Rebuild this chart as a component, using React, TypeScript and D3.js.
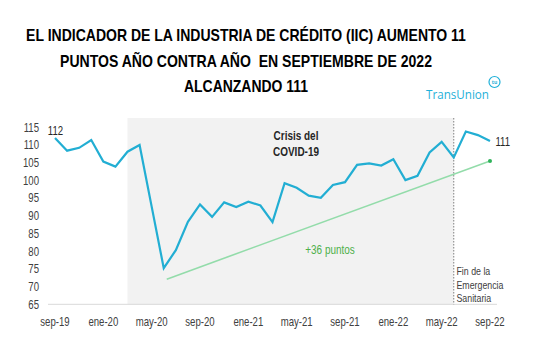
import React, { useLayoutEffect, useRef, useState } from "react";
import * as d3 from "d3";

const months = [
  "sep-19","oct-19","nov-19","dic-19","ene-20","feb-20","mar-20","abr-20","may-20","jun-20","jul-20","ago-20",
  "sep-20","oct-20","nov-20","dic-20","ene-21","feb-21","mar-21","abr-21","may-21","jun-21","jul-21","ago-21",
  "sep-21","oct-21","nov-21","dic-21","ene-22","feb-22","mar-22","abr-22","may-22","jun-22","jul-22","ago-22","sep-22",
];
const iic = [
  112, 108.4, 109.2, 111.4, 105.3, 103.9, 108.1, 110, 92.6, 75.2, 80.3, 88.3,
  93.2, 89.7, 93.8, 92.5, 94.0, 92.9, 88.2, 99.2, 97.9, 95.7, 95.1, 98.7,
  99.5, 104.4, 104.8, 104.2, 106.0, 100.1, 101.3, 107.9, 110.9, 106.5, 113.8, 112.8, 111.1,
];
const xTicks = ["sep-19","ene-20","may-20","sep-20","ene-21","may-21","sep-21","ene-22","may-22","sep-22"];
const yTicks = [65, 70, 75, 80, 85, 90, 95, 100, 105, 110, 115];
const trendMonths = ["jun-20", "sep-22"];
const trendValues = [72.1, 105.5];
const crisisStart = "mar-20";
const crisisEnd = "jun-22";
const titleLines = [
  "EL INDICADOR DE LA INDUSTRIA DE CRÉDITO (IIC) AUMENTO 11",
  "PUNTOS AÑO CONTRA AÑO  EN SEPTIEMBRE DE 2022",
  "ALCANZANDO 111",
];
const crisisLabel = ["Crisis del", "COVID-19"];
const endLabel = ["Fin de la", "Emergencia", "Sanitaria"];

const sans = "'Liberation Sans', Arial, sans-serif";

type NProps = {
  x: number;
  y: number;
  s?: number;
  anchor?: "start" | "middle" | "end";
  size: number;
  fill: string;
  bold?: boolean;
  children: React.ReactNode;
};
function NText({ x, y, s = 0.8, anchor = "start", size, fill, bold, children }: NProps) {
  return (
    <text
      transform={`translate(${x},${y}) scale(${s},1)`}
      textAnchor={anchor}
      fontFamily={sans}
      fontSize={size}
      fontWeight={bold ? "bold" : "normal"}
      fill={fill}
    >
      {children}
    </text>
  );
}

function FitText({ x, y, width, children }: { x: number; y: number; width: number; children: string }) {
  const ref = useRef<SVGTextElement>(null);
  const [s, setS] = useState(0.82);
  useLayoutEffect(() => {
    if (ref.current) {
      const w = ref.current.getComputedTextLength();
      if (w > 0) setS(width / w);
    }
  }, [width, children]);
  return (
    <text
      ref={ref}
      transform={`translate(${x},${y}) scale(${s},1)`}
      textAnchor="middle"
      fontFamily={sans}
      fontWeight="bold"
      fontSize={16.5}
      fill="#000"
      style={{ whiteSpace: "pre" }}
    >
      {children}
    </text>
  );
}

export default function App() {
  const x = d3.scalePoint<string>().domain(months).range([55, 490]);
  const y = d3.scaleLinear().domain([65, 115]).range([304.3, 127.3]);
  const line = d3
    .line<number>()
    .x((_, i) => x(months[i]) as number)
    .y((d) => y(d));
  const trend = d3
    .line<number>()
    .x((_, i) => (x(trendMonths[i]) as number) + (i === 0 ? 3 : 0))
    .y((d) => y(d));
  const shadeX0 = x(crisisStart) as number;
  const shadeX1 = x(crisisEnd) as number;
  const lineColor = "#22aed3";
  const titleWidths = [440, 372, 124];
  const last = iic.length - 1;
  const logo = "#1fb0d8";

  return (
    <svg
      width={540}
      height={364}
      style={{ position: "absolute", left: 0, top: 0, display: "block", background: "#fff" }}
    >
      {titleLines.map((t, i) => (
        <FitText key={i} x={246} y={41 + i * 25.5} width={titleWidths[i]}>
          {t}
        </FitText>
      ))}
      {/* logo */}
      <text x={426} y={99} fontFamily="'Open Sans', sans-serif" fontSize={13} fill={logo} textLength={63} lengthAdjust="spacingAndGlyphs">
        TransUnion
      </text>
      <circle cx={494.5} cy={82} r={5.5} fill="none" stroke={logo} strokeWidth={1.2} />
      <text x={494.5} y={83.8} textAnchor="middle" fontFamily="'Open Sans', sans-serif" fontSize={5} fontWeight="bold" fill={logo}>
        tu
      </text>

      {/* shading */}
      <rect x={shadeX0} y={118} width={shadeX1 - shadeX0} height={y(65) - 118} fill="#f2f2f2" />
      <line x1={48} x2={497} y1={y(65)} y2={y(65)} stroke="#d9d9d9" strokeWidth={1} />
      <line x1={shadeX1} x2={shadeX1} y1={118} y2={y(65)} stroke="#7f7f7f" strokeWidth={1} strokeDasharray="1.5,1.5" />

      {/* y axis labels */}
      {yTicks.map((t) => (
        <NText key={t} x={39} y={y(t) + 4.3} anchor="end" size={12} fill="#404040">
          {t}
        </NText>
      ))}
      {/* x axis labels */}
      {xTicks.map((m) => (
        <NText key={m} x={x(m) as number} y={325.5} anchor="middle" size={12} fill="#404040">
          {m}
        </NText>
      ))}

      {/* trend */}
      <path d={trend(trendValues) as string} fill="none" stroke="#93dcaa" strokeWidth={1.6} />
      <circle cx={x(trendMonths[1]) as number} cy={y(trendValues[1])} r={2} fill="#2fb35a" />

      {/* main line */}
      <path d={line(iic) as string} fill="none" stroke={lineColor} strokeWidth={2.2} strokeLinejoin="miter" />

      {/* annotations */}
      <NText x={55.5} y={134.5} anchor="middle" size={12} fill="#262626">
        {Math.round(iic[0])}
      </NText>
      <NText x={495.5} y={146} size={12} fill="#262626">
        {Math.round(iic[last])}
      </NText>
      {crisisLabel.map((t, i) => (
        <NText key={t} x={296} y={139.5 + i * 16} anchor="middle" size={12} bold s={0.83} fill="#262626">
          {t}
        </NText>
      ))}
      <NText x={330} y={254} anchor="middle" size={12} s={0.83} fill="#4db04a">
        +36 puntos
      </NText>
      {endLabel.map((t, i) => (
        <NText key={t} x={456.5} y={275 + i * 13.7} size={11} fill="#404040">
          {t}
        </NText>
      ))}
    </svg>
  );
}
